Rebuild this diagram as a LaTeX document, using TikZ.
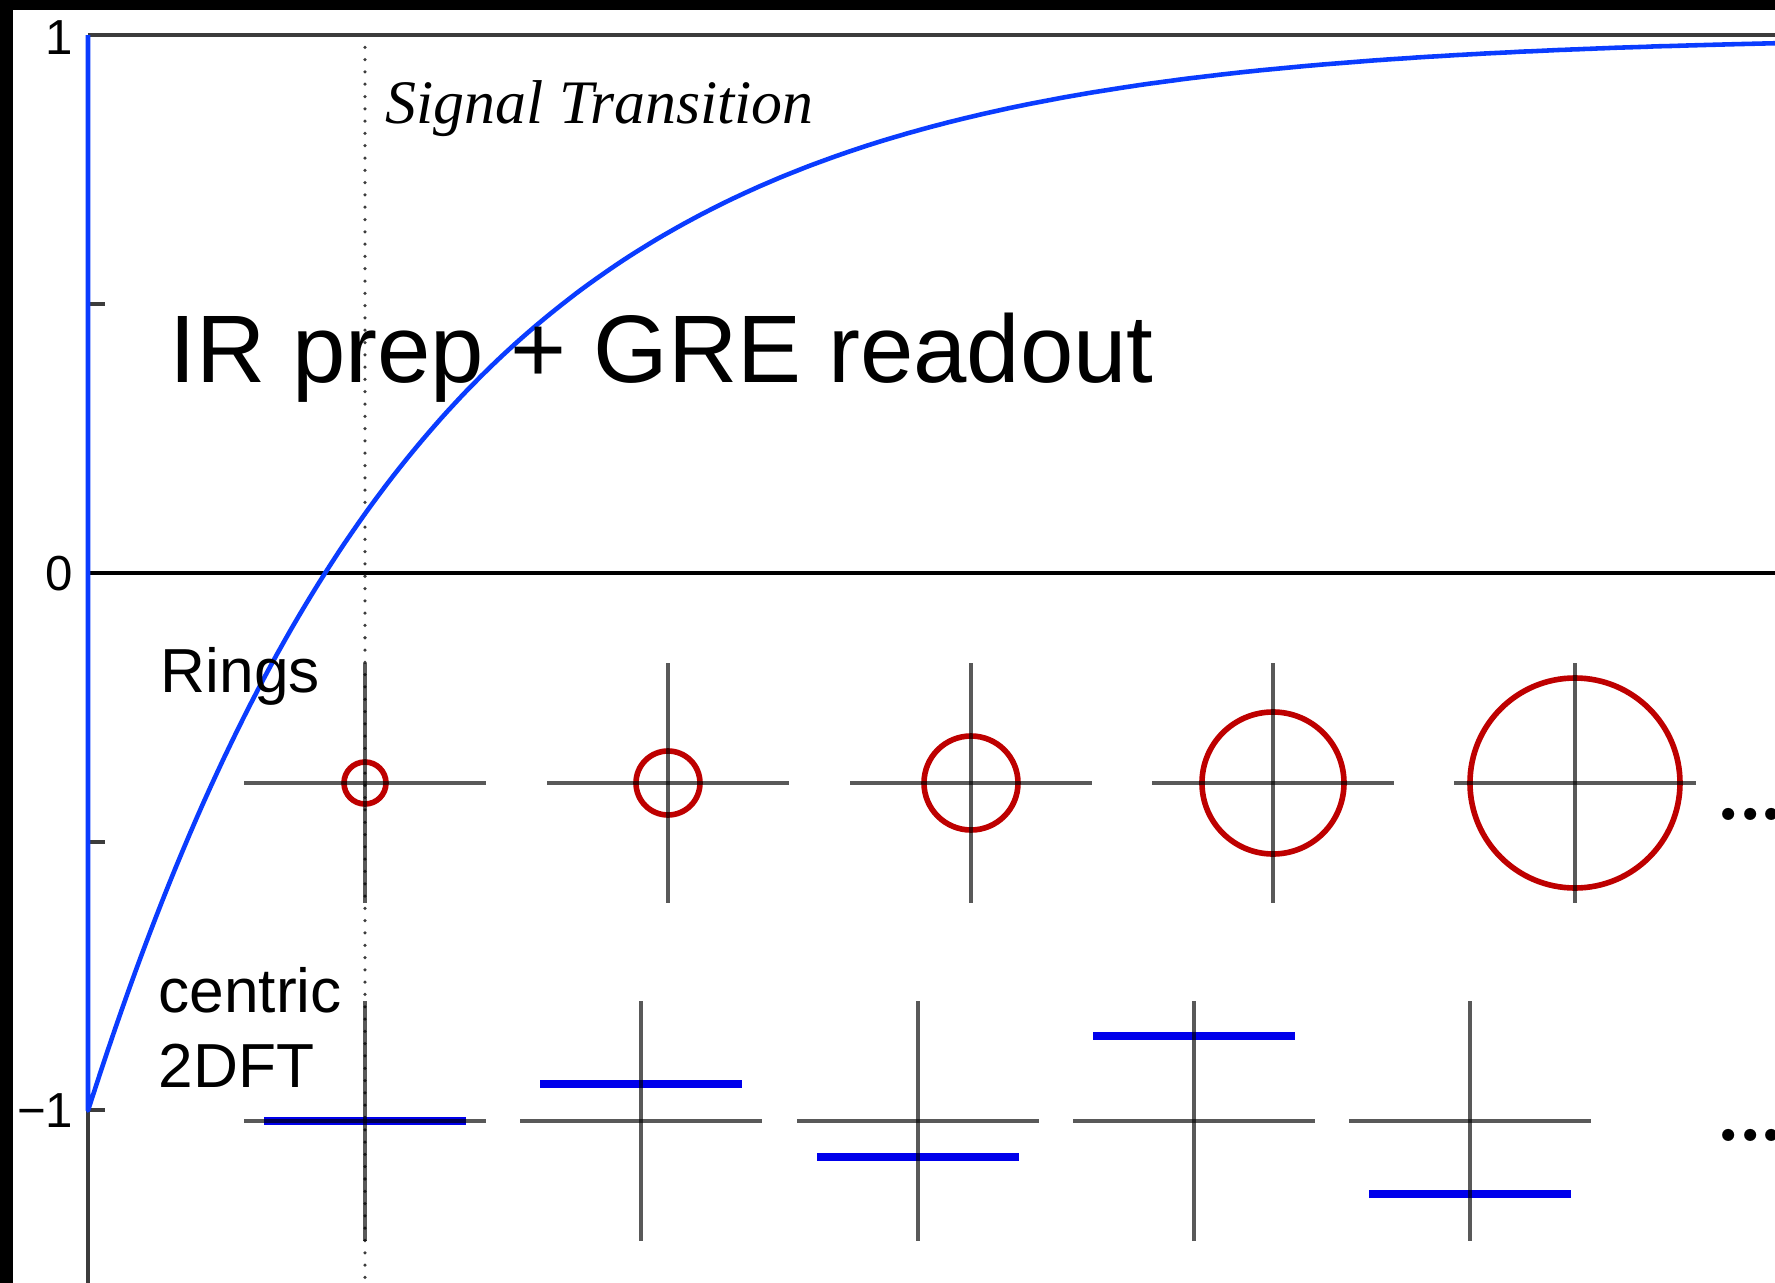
\documentclass[tikz,border=0pt]{standalone}
\usepackage{fontspec}
\newfontfamily\arial{Liberation Sans}
\newfontfamily\sigfont{Liberation Serif}
\usetikzlibrary{positioning}
\definecolor{curveblue}{RGB}{10,60,255}
\definecolor{barblue}{RGB}{0,0,235}
\definecolor{ringred}{RGB}{190,0,0}
\definecolor{axisgray}{RGB}{60,60,60}
\newcommand{\tightdots}{.\kern-1.4pt.\kern-1.4pt.}

\begin{document}
\begin{tikzpicture}[x=0.1mm,y=-0.1mm,
    crossline/.style={draw=black,opacity=0.65,line width=1.05pt},
    ring/.style={draw=ringred,line width=1.6pt},
    kbar/.style={draw=barblue,line width=2.3pt},
    lbl/.style={font=\arial\fontsize{17.7}{21.3}\selectfont,inner sep=0pt,anchor=base west},
    ticklbl/.style={font=\arial\fontsize{14}{16}\selectfont,inner sep=0pt,anchor=east},
    moredots/.style={font=\normalfont\bfseries\fontsize{24}{26}\selectfont,inner sep=0pt,anchor=base west}]
  \useasboundingbox (0,0) rectangle (1775,1283);
  \fill[black] (0,0) rectangle (1775,1283);
  \fill[white] (13,10) rectangle (1775,1283);
  % axes
  \draw[axisgray,line width=1.1pt] (88,35) -- (1775,35);
  \draw[black,line width=1pt] (88,573) -- (1775,573);
  \draw[axisgray,line width=1pt] (88,35) -- (88,1283);
  \foreach \ty in {304,842,1110}
    \draw[axisgray,line width=0.9pt] (88,\ty) -- (105,\ty);
  \node[ticklbl] (tick1) at (74,38) {1};
  \node[ticklbl] (tick0) at (74,574) {0};
  \node[ticklbl] (tickm1) at (74,1111) {−1};
  \draw[axisgray,line width=1pt,line cap=round,dash pattern=on 0pt off 3.5pt] (365,35) -- (365,1283);
  % recovery curve
  \draw[curveblue,line width=1.3pt,line join=round] (88,35) -- (88,1110)
    -- plot[domain=88:1775,samples=250] (\x,{573-537.5*(1-2*exp(-(\x-88)/342))});
  \node[inner sep=0pt,anchor=base west,font=\sigfont\itshape\fontsize{17.6}{20}\selectfont] (signal) at (385,123) {Signal Transition};
  \node[inner sep=0pt,anchor=base west,font=\arial\fontsize{27.3}{32}\selectfont] (title) at (169,382) {IR prep + GRE readout};
  % rings row
  \node[lbl] (rings) at (160,692) {Rings};
  \foreach \cx/\r [count=\i] in {365/21,668/32,971/47,1273/71,1575/105} {
    \coordinate (r\i) at (\cx,783);
    \draw[ring] (r\i) circle[radius=\r];
    \draw[crossline] (r\i) ++(-121,0) -- ++(242,0);
    \draw[crossline] (r\i) ++(0,-120) -- ++(0,240);
  }
  \node[moredots] (rdots) at (1715,820) {\tightdots};
  % 2DFT row
  \node[lbl] (centric) at (158,1012) {centric};
  \node[lbl] (dft) at (158,1087) {2DFT};
  \foreach \cx/\dy [count=\i] in {365/0,641/-37,918/36,1194/-85,1470/73} {
    \coordinate (k\i) at (\cx,1121);
    \draw[kbar] (k\i) ++(-101,\dy) -- ++(202,0);
    \draw[crossline] (k\i) ++(-121,0) -- ++(242,0);
    \draw[crossline] (k\i) ++(0,-120) -- ++(0,240);
  }
  \node[moredots] (kdots) at (1715,1141) {\tightdots};
\end{tikzpicture}
\end{document}
